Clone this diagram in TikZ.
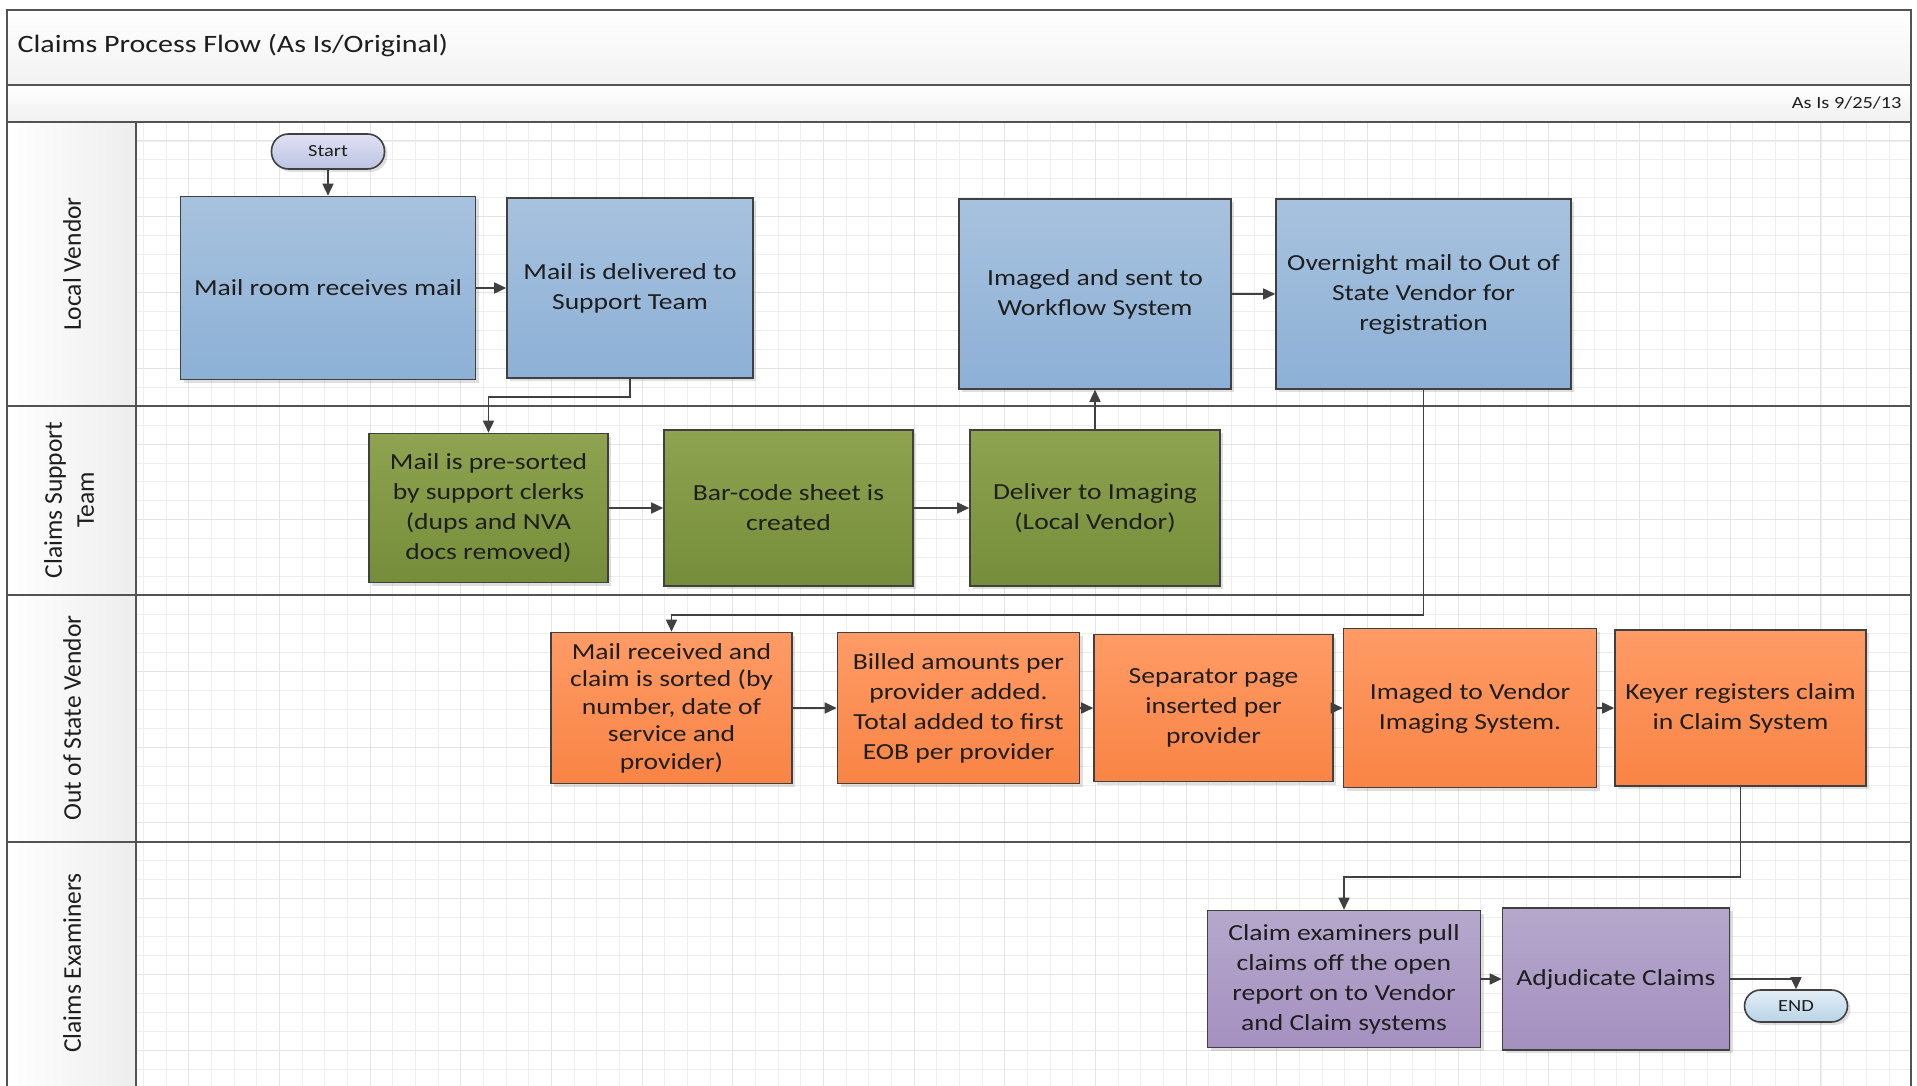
\documentclass[tikz,border=0pt]{standalone}
\usepackage{fontspec}
\setmainfont{Carlito}[FakeStretch=1.2]
\newfontfamily\lanefont{Carlito}
\usetikzlibrary{arrows.meta}
\usetikzlibrary{shadows}

\definecolor{linegray}{HTML}{404040}
\definecolor{textgray}{HTML}{1E1E1E}
\definecolor{localtop}{HTML}{A7C2DE}
\definecolor{localbot}{HTML}{8DB0D6}
\definecolor{supporttop}{HTML}{8FA350}
\definecolor{supportbot}{HTML}{758D3A}
\definecolor{vendortop}{HTML}{FF9B66}
\definecolor{vendorbot}{HTML}{F98445}
\definecolor{examtop}{HTML}{B5A8CC}
\definecolor{exambot}{HTML}{A590C0}
\definecolor{starttop}{HTML}{E0E2F2}
\definecolor{startbot}{HTML}{BCC3E4}
\definecolor{endtop}{HTML}{E2EEF6}
\definecolor{endbot}{HTML}{B9D3E6}

\begin{document}
\begin{tikzpicture}[x=1pt,y=-1pt]
	 \tikzstyle{process}=[rectangle,draw=linegray,line width=1.6pt,inner sep=0pt,align=center,text=textgray,font=\fontsize{23}{30}\selectfont,drop shadow={shadow xshift=3pt,shadow yshift=-3pt,opacity=0.25}]
	 \tikzstyle{local process}=[process,top color=localtop,bottom color=localbot]
	 \tikzstyle{support process}=[process,top color=supporttop,bottom color=supportbot]
	 \tikzstyle{vendor process}=[process,top color=vendortop,bottom color=vendorbot]
	 \tikzstyle{examiner process}=[process,top color=examtop,bottom color=exambot]
	 \tikzstyle{terminal}=[process,font=\fontsize{17}{20}\selectfont]
	 \tikzstyle{edge}=[-{Triangle[length=12pt,width=11pt]},linegray,line width=1.6pt]
	 \tikzstyle{lane line}=[draw=linegray!90,line width=1.6pt]
	 \tikzstyle{grid line}=[gray!13,line width=0.8pt]
	 \tikzstyle{major line}=[gray!22,line width=0.9pt]
	 \tikzstyle{lane label}=[rotate=90,align=center,text=textgray,font=\lanefont\fontsize{25.5}{32}\selectfont]

	\useasboundingbox (0,0) rectangle (1917,1086);
	\fill[white] (0,0) rectangle (1917,1086);

	% bands and lane column
	\shade[top color=white,bottom color=gray!10] (7,10) rectangle (1911,85);
	\shade[top color=white,bottom color=gray!12] (7,85) rectangle (1911,122);
	\shade[left color=white,right color=gray!14] (7,122) rectangle (136,1090);

	% grid
	\foreach \i in {0,...,77}
		\draw[grid line] ({143.3+22.67*\i},122) -- ({143.3+22.67*\i},1086);
	\foreach \j in {1,...,51}
		\draw[grid line] (136,{122+18.94*\j}) -- (1911,{122+18.94*\j});
	\foreach \i in {0,...,18}
		\draw[major line] ({188.64+90.68*\i},122) -- ({188.64+90.68*\i},1086);
	\foreach \j in {0,...,12}
		\draw[major line] (136,{140.94+75.76*\j}) -- (1911,{140.94+75.76*\j});

	% frame and lanes
	\draw[lane line] (7,10) rectangle (1911,1096);
	\draw[lane line] (7,85) -- (1911,85);
	\draw[lane line] (7,122) -- (1911,122);
	\draw[lane line] (136,122) -- (136,1096);
	\draw[lane line] (7,406) -- (1911,406);
	\draw[lane line] (7,595) -- (1911,595);
	\draw[lane line] (7,842) -- (1911,842);

	\node[anchor=west,text=textgray,font=\fontsize{25}{30}\selectfont] (title) at (14,46) {Claims Process Flow (As Is/Original)};
	\node[anchor=east,text=textgray,font=\fontsize{17}{20}\selectfont] (date) at (1905,103) {As Is 9/25/13};

	\node[lane label] (lane1) at (72,264) {Local Vendor};
	\node[lane label] (lane2) at (69,500) {Claims Support\\Team};
	\node[lane label] (lane3) at (72,718) {Out of State Vendor};
	\node[lane label] (lane4) at (72,963) {Claims Examiners};

	% local vendor
	\node[terminal,rounded corners=17pt,top color=starttop,bottom color=startbot,minimum width=113,minimum height=35] (start) at (328,151.5) {Start};
	\node[local process,minimum width=295,minimum height=183] (mailroom) at (328,288) {Mail room receives mail};
	\node[local process,minimum width=246,minimum height=180] (delivered) at (630,288) {Mail is delivered to\\Support Team};
	\node[local process,minimum width=272,minimum height=190] (imaged) at (1095,294) {Imaged and sent to\\Workflow System};
	\node[local process,minimum width=295,minimum height=190] (overnight) at (1423.5,294) {Overnight mail to Out of\\State Vendor for\\registration};

	% claims support team
	\node[support process,minimum width=239,minimum height=149] (presorted) at (488.5,508) {Mail is pre-sorted\\by support clerks\\(dups and NVA\\docs removed)};
	\node[support process,minimum width=249,minimum height=156] (barcode) at (788.5,508) {Bar-code sheet is\\created};
	\node[support process,minimum width=250,minimum height=156] (deliver) at (1095,508) {Deliver to Imaging\\(Local Vendor)};

	% out of state vendor
	\node[vendor process,minimum width=241,minimum height=151,font=\fontsize{23}{27.5}\selectfont] (received) at (671.5,708) {Mail received and\\claim is sorted (by\\number, date of\\service and\\provider)};
	\node[vendor process,minimum width=242,minimum height=151] (billed) at (958.5,708) {Billed amounts per\\provider added.\\Total added to first\\EOB per provider};
	\node[vendor process,minimum width=239,minimum height=147] (separator) at (1213.5,708) {Separator page\\inserted per\\provider};
	\node[vendor process,minimum width=253,minimum height=159] (vendorimage) at (1470,708) {Imaged to Vendor\\Imaging System.};
	\node[vendor process,minimum width=251,minimum height=156] (keyer) at (1740.5,708) {Keyer registers claim\\in Claim System};

	% claims examiners
	\node[examiner process,minimum width=273,minimum height=137] (examiners) at (1344,979) {Claim examiners pull\\claims off the open\\report on to Vendor\\and Claim systems};
	\node[examiner process,minimum width=227,minimum height=142] (adjudicate) at (1616,979) {Adjudicate Claims};
	\node[terminal,rounded corners=16pt,top color=endtop,bottom color=endbot,minimum width=103,minimum height=32] (end) at (1796,1006) {END};

	\draw[edge] (start) -- (mailroom);
	\draw[edge] (mailroom) -- (delivered);
	\draw[edge] (delivered.south) -- ++(0,18) -| (presorted.north);
	\draw[edge] (presorted) -- (barcode);
	\draw[edge] (barcode) -- (deliver);
	\draw[edge] (deliver) -- (imaged);
	\draw[edge] (imaged) -- (overnight);
	\draw[edge] (overnight.south) -- ++(0,225) -| (received.north);
	\draw[edge] (received) -- (billed);
	\draw[edge] (billed) -- (separator);
	\draw[edge] (separator) -- (vendorimage);
	\draw[edge] (vendorimage) -- (keyer);
	\draw[edge] (keyer.south) -- ++(0,90) -| (examiners.north);
	\draw[edge] (examiners) -- (adjudicate);
	\draw[edge] (adjudicate.east) -| (end.north);
\end{tikzpicture}
\end{document}
